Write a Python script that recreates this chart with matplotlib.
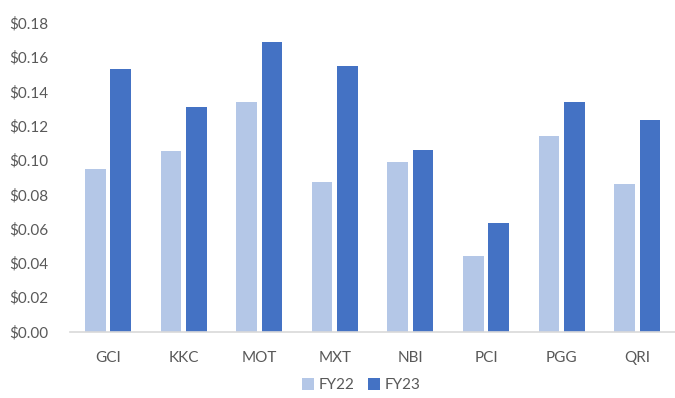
import numpy as np
import matplotlib.pyplot as plt
from matplotlib.ticker import FuncFormatter

plt.rcParams['font.family'] = ['Lato', 'DejaVu Sans']

tickers = ['GCI', 'KKC', 'MOT', 'MXT', 'NBI', 'PCI', 'PGG', 'QRI']
fy22 = [0.095, 0.105, 0.134, 0.087, 0.099, 0.044, 0.114, 0.086]
fy23 = [0.153, 0.131, 0.169, 0.155, 0.106, 0.063, 0.134, 0.123]

c22 = '#b4c7e7'
c23 = '#4472c4'
txt = '#595959'

fig = plt.figure(figsize=(6.75, 3.98), dpi=100)
ax = fig.add_axes([0.104, 0.167, 0.896, 0.776])

x = np.arange(len(tickers))
w = 0.27
gap = 0.066
ax.bar(x - (w + gap) / 2, fy22, w, color=c22, label='FY22')
ax.bar(x + (w + gap) / 2, fy23, w, color=c23, label='FY23')

ax.set_xlim(-0.5, len(tickers) - 0.5)
ax.set_ylim(0, 0.18)
ax.set_yticks(np.arange(0, 0.181, 0.02))
ax.yaxis.set_major_formatter(FuncFormatter(lambda v, p: f'${v:.2f}'))
ax.set_xticks(x)
ax.set_xticklabels(tickers)

for s in ['top', 'right', 'left']:
    ax.spines[s].set_visible(False)
ax.spines['bottom'].set_color('#d9d9d9')
ax.spines['bottom'].set_linewidth(1.2)
ax.tick_params(axis='both', length=0, labelsize=11, labelcolor=txt)
ax.tick_params(axis='x', pad=14)
ax.tick_params(axis='y', pad=16)

# legend sits right at the bottom edge
fig.legend(loc='lower center', bbox_to_anchor=(0.535, -0.012), ncol=2, frameon=False,
           fontsize=11, labelcolor=txt, handlelength=0.8, handleheight=0.8,
           handletextpad=0.3, columnspacing=0.9, borderpad=0.2)

fig.savefig('out.png', dpi=100)
